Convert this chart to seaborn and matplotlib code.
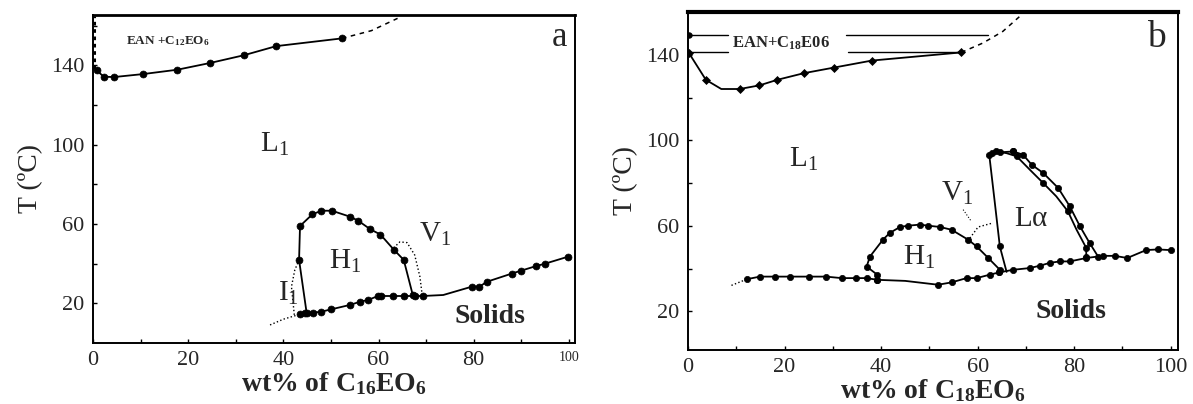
import numpy as np
import pandas as pd
import matplotlib as mpl
import matplotlib.pyplot as plt
import seaborn as sns

sns.set_style('white')
plt.rcParams['font.family'] = ['Liberation Serif', 'DejaVu Serif']
plt.rcParams['mathtext.default'] = 'regular'

# ---------------- panel a : EAN + C16EO6 ----------------
a_cloud_x = [0.8, 2.2, 4.4, 10.5, 17.7, 24.6, 31.7, 38.5, 52.3]
a_cloud_y = [137.5, 134.3, 134.1, 135.6, 137.8, 141.2, 145.1, 149.7, 153.6]
a_dash_x = [52.3, 58.5, 64.0]
a_dash_y = [153.6, 157.5, 163.7]
a_axis_x = [0.3, 0.3]
a_axis_y = [138, 165]

a_h1_x = [44.9, 43.3, 43.5, 46.1, 48.0, 50.2, 54.0, 55.7, 58.3, 60.4, 63.2, 65.3, 67.2]
a_h1_y = [15.0, 41.9, 59.0, 64.9, 66.7, 66.7, 63.7, 61.7, 57.3, 54.7, 47.1, 41.9, 24.2]

a_sol_x = [43.5, 44.5, 46.3, 48.0, 50.1, 54.0, 56.1, 57.8, 59.9, 60.6, 63.1, 65.3, 67.6, 69.3,
           73.6, 79.6, 81.2, 82.8, 88.0, 90.0, 93.0, 95.0, 99.8]
a_sol_y = [14.5, 15.0, 15.3, 15.8, 17.0, 19.2, 20.8, 21.7, 23.7, 23.7, 23.7, 23.7, 23.7, 23.7,
           24.2, 28.4, 28.4, 30.9, 35.0, 36.5, 38.7, 40.0, 43.5]
a_sol_marks = [0, 1, 2, 3, 4, 5, 6, 7, 8, 9, 10, 11, 12, 13, 15, 16, 17, 18, 19, 20, 21, 22]

a_tail_x = [37.2, 40.0, 43.5]
a_tail_y = [9.1, 12.0, 14.5]
a_i1_x = [42.3, 41.7, 42.4, 43.3]
a_i1_y = [14.2, 28.4, 36.8, 41.9]
a_v1_x = [63.2, 64.5, 66.0, 67.6, 68.7, 69.2]
a_v1_y = [48.0, 51.0, 50.6, 44.4, 33.4, 23.7]

# ---------------- panel b : EAN + C18EO6 ----------------
b_cloud_x = [0.2, 3.7, 6.9, 10.7, 14.8, 18.5, 24.0, 30.2, 38.1, 56.6]
b_cloud_y = [140.8, 128.3, 124.0, 124.0, 125.7, 128.3, 131.4, 134.0, 137.3, 141.1]
b_cloud_marks = [0, 1, 3, 4, 5, 6, 7, 8, 9]
b_dash_x = [56.6, 61.1, 65.2, 68.7]
b_dash_y = [141.1, 145.5, 150.9, 157.9]
b_tie_y = [149.3, 141.1]
b_tie_left = [0.2, 8.3]
b_tie_right = [[32.8, 62.1], [33.1, 56.5]]

b_tail_x = [9.0, 12.2]
b_tail_y = [32.2, 35.1]
b_sol_x = [12.2, 14.9, 18.0, 21.2, 25.1, 28.6, 31.8, 34.9, 37.0, 39.2]
b_sol_y = [35.1, 36.3, 36.3, 36.3, 36.3, 36.3, 35.6, 35.6, 35.6, 34.8]

b_h1_x = [39.2, 37.0, 37.7, 40.4, 41.8, 43.9, 45.6, 48.0, 49.8, 52.2, 54.6, 58.0, 59.8, 62.2, 64.6]
b_h1_y = [37.2, 41.0, 45.7, 53.6, 56.7, 59.5, 60.1, 60.6, 60.1, 59.5, 58.2, 53.6, 50.4, 45.0, 39.5]
b_h1low_x = [39.2, 45.0, 51.8, 54.6, 57.7, 59.8, 62.5, 64.5]
b_h1low_y = [34.8, 34.3, 32.5, 33.6, 35.6, 35.6, 37.2, 38.3]
b_h1low_marks = [0, 2, 3, 4, 5, 6, 7]

b_sol2_x = [64.5, 67.4, 70.8, 72.9, 74.9, 77.0, 79.1, 82.5, 86.0, 88.4, 91.0, 94.9, 97.3, 100.0]
b_sol2_y = [38.3, 39.5, 40.3, 41.4, 42.7, 43.4, 43.4, 45.0, 46.0, 46.0, 45.0, 48.7, 49.0, 48.7]

b_la_left_x = [66.0, 64.6, 63.5, 62.4, 62.9, 64.6, 67.4]
b_la_left_y = [38.5, 50.4, 72.0, 93.3, 94.1, 94.4, 94.8]
b_la_out_x = [67.4, 69.4, 71.2, 73.6, 76.7, 79.1, 81.2, 83.2, 85.0]
b_la_out_y = [94.8, 93.3, 88.6, 84.7, 77.7, 69.1, 59.8, 52.0, 45.5]
b_la_in_x = [63.9, 66.0, 68.1, 70.8, 73.6, 76.3, 78.7, 80.5, 82.5, 82.5]
b_la_in_y = [94.8, 94.0, 92.5, 86.3, 80.0, 73.8, 66.8, 58.2, 49.7, 45.7]

b_v1_x = [58.4, 60.1, 63.2]
b_v1_y = [54.3, 59.5, 61.4]
b_v1b_x = [57.0, 58.7]
b_v1b_y = [67.6, 62.1]

xticks = [0, 20, 40, 60, 80, 100]
yticks = [20, 60, 100, 140]


def curve(ax, x, y, ls='-', marks=None, ms=5.0, lw=1.3, marker='o'):
    kw = dict(color='k', linewidth=lw, linestyle=ls)
    if marks is not None:
        kw.update(marker=marker, markersize=ms, markeredgecolor='k',
                  markerfacecolor='k', markeredgewidth=0.5, markevery=marks)
    sns.lineplot(x=x, y=y, sort=False, estimator=None, ax=ax, **kw)


def allm(v):
    return list(range(len(v)))


fig = plt.figure(figsize=(11.93, 4.04), dpi=100)
ax_a = fig.add_axes([0.0780, 0.1510, 0.404, 0.8119])
ax_b = fig.add_axes([0.5767, 0.1337, 0.4107, 0.8366])

# panel a
curve(ax_a, a_cloud_x, a_cloud_y, marks=allm(a_cloud_x))
curve(ax_a, a_dash_x, a_dash_y, ls=(0, (3, 3)), lw=1.1)
curve(ax_a, a_axis_x, a_axis_y, ls=(0, (1.2, 1.2)), lw=2.2)
curve(ax_a, a_h1_x, a_h1_y, marks=allm(a_h1_x))
curve(ax_a, a_sol_x, a_sol_y, marks=a_sol_marks)
curve(ax_a, a_tail_x, a_tail_y, ls=':', lw=1.0)
curve(ax_a, a_i1_x, a_i1_y, ls=':', lw=1.0)
curve(ax_a, a_v1_x, a_v1_y, ls=':', lw=1.0)

ax_a.set_xlim(0, 101.3)
ax_a.set_ylim(0, 165.4)

big = 21
ax_a.text(7, 152, r'EAN +C$_{12}$EO$_{6}$', fontsize=9.5, fontweight='bold', va='center')
ax_a.text(35, 100, r'L$_1$', fontsize=big, va='center')
ax_a.text(68.5, 55, r'V$_1$', fontsize=big, va='center')
ax_a.text(49.5, 41, r'H$_1$', fontsize=big, va='center')
ax_a.text(38.8, 25, r'I$_1$', fontsize=big, va='center')
ax_a.text(76, 13.5, 'Solids', fontsize=20, fontweight='bold', va='center')
ax_a.text(96.5, 154, 'a', fontsize=25, va='center')

# panel b
curve(ax_b, b_cloud_x, b_cloud_y, marks=b_cloud_marks, ms=4.5, marker='D')
curve(ax_b, b_dash_x, b_dash_y, ls=(0, (3, 3)), lw=1.1)
for ty, tr in zip(b_tie_y, b_tie_right):
    curve(ax_b, b_tie_left, [ty, ty], lw=1.0)
    curve(ax_b, tr, [ty, ty], lw=1.0)
curve(ax_b, [0.2], [149.3], marks=[0], ms=4)
curve(ax_b, b_tail_x, b_tail_y, ls=':', lw=1.0)
curve(ax_b, b_sol_x, b_sol_y, marks=allm(b_sol_x), ms=4.5)
curve(ax_b, b_h1_x, b_h1_y, marks=allm(b_h1_x), ms=4.5)
curve(ax_b, b_h1low_x, b_h1low_y, marks=b_h1low_marks, ms=4.5)
curve(ax_b, b_sol2_x, b_sol2_y, marks=allm(b_sol2_x), ms=4.5)
curve(ax_b, b_la_left_x, b_la_left_y, marks=[1, 3, 4, 5, 6], ms=4.5)
curve(ax_b, b_la_out_x, b_la_out_y, marks=allm(b_la_out_x), ms=4.5)
curve(ax_b, b_la_in_x, b_la_in_y, marks=[0, 2, 4, 6, 8, 9], ms=4.5)
curve(ax_b, b_v1_x, b_v1_y, ls=':', lw=1.0)
curve(ax_b, b_v1b_x, b_v1b_y, ls=':', lw=0.8)

ax_b.set_xlim(0, 101.5)
ax_b.set_ylim(2, 160)

ax_b.text(9.2, 145.3, r'EAN+C$_{18}$E06', fontsize=12, fontweight='bold', va='center',
          bbox=dict(facecolor='white', edgecolor='none', pad=1))
ax_b.text(21, 91, r'L$_1$', fontsize=big, va='center')
ax_b.text(52.5, 75, r'V$_1$', fontsize=big, va='center')
ax_b.text(67.5, 63, r'L$\alpha$', fontsize=big, va='center')
ax_b.text(44.5, 45.5, r'H$_1$', fontsize=big, va='center')
ax_b.text(72, 20, 'Solids', fontsize=20, fontweight='bold', va='center')
ax_b.text(95, 148, 'b', fontsize=27, va='center')

for ax, lab in [(ax_a, r'wt% of C$_{16}$EO$_6$'), (ax_b, r'wt% of C$_{18}$EO$_6$')]:
    ax.set_xticks(xticks)
    ax.set_xticks(range(10, 100, 20), minor=True)
    ax.set_yticks(yticks)
    ax.set_yticks(range(40, 161, 40), minor=True)
    ax.tick_params(which='both', direction='in', length=3, width=1, pad=6,
                   labelsize=16, color='k', bottom=True, left=True)
    ax.set_xlabel(lab, fontsize=20, fontweight='bold', labelpad=0)
    ax.set_ylabel('T (ºC)', fontsize=20, labelpad=6)
    for s in ax.spines.values():
        s.set_color('k')
        s.set_linewidth(1.4)

ax_a.spines['top'].set_linewidth(2.0)
ax_b.spines['top'].set_linewidth(3.0)
ax_a.get_xticklabels()[-1].set_fontsize(10)

fig.savefig('out.png', dpi=100)
